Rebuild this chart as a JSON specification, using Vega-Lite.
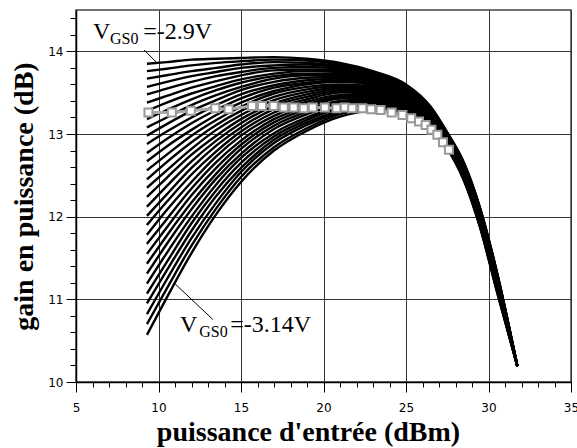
{
"$schema":"https://vega.github.io/schema/vega-lite/v6.json",
"width":495,"height":372,
"autosize":{"type":"none"},
"padding":{"left":76,"top":10,"right":6,"bottom":66},
"background":"white",
"config":{"view":{"stroke":"#444","strokeWidth":1.5},
"axis":{"labelFont":"DejaVu Sans","labelFontSize":12,"labelColor":"black","tickColor":"black","tickWidth":1,"domainColor":"black","domainWidth":1.5,"gridColor":"#333","gridWidth":1,"titleFont":"Liberation Serif","titleFontSize":28,"titleFontWeight":"bold","titleColor":"black"}},
"datasets":{
"curves":[
{"c":0,"x":9.3,"g":13.85},{"c":0,"x":10.5,"g":13.87},{"c":0,"x":12,"g":13.9},{"c":0,"x":13.5,"g":13.91},{"c":0,"x":15,"g":13.92},{"c":0,"x":17,"g":13.93},{"c":0,"x":19,"g":13.91},{"c":0,"x":21,"g":13.86},{"c":0,"x":23,"g":13.76},{"c":0,"x":25,"g":13.6},{"c":0,"x":26.5,"g":13.33},{"c":0,"x":27.5,"g":13.02},{"c":0,"x":28.5,"g":12.66},{"c":0,"x":29.5,"g":12.1},{"c":0,"x":30.5,"g":11.34},{"c":0,"x":31.75,"g":10.19},
{"c":1,"x":9.3,"g":13.76},{"c":1,"x":10.5,"g":13.79},{"c":1,"x":12,"g":13.83},{"c":1,"x":13.5,"g":13.86},{"c":1,"x":15,"g":13.88},{"c":1,"x":17,"g":13.9},{"c":1,"x":19,"g":13.89},{"c":1,"x":21,"g":13.84},{"c":1,"x":23,"g":13.75},{"c":1,"x":25,"g":13.59},{"c":1,"x":26.5,"g":13.32},{"c":1,"x":27.5,"g":13.01},{"c":1,"x":28.5,"g":12.65},{"c":1,"x":29.5,"g":12.09},{"c":1,"x":30.5,"g":11.33},{"c":1,"x":31.75,"g":10.19},
{"c":2,"x":9.3,"g":13.67},{"c":2,"x":10.5,"g":13.71},{"c":2,"x":12,"g":13.76},{"c":2,"x":13.5,"g":13.8},{"c":2,"x":15,"g":13.84},{"c":2,"x":17,"g":13.87},{"c":2,"x":19,"g":13.86},{"c":2,"x":21,"g":13.82},{"c":2,"x":23,"g":13.73},{"c":2,"x":25,"g":13.58},{"c":2,"x":26.5,"g":13.31},{"c":2,"x":27.5,"g":13.01},{"c":2,"x":28.5,"g":12.65},{"c":2,"x":29.5,"g":12.09},{"c":2,"x":30.5,"g":11.33},{"c":2,"x":31.75,"g":10.19},
{"c":3,"x":9.3,"g":13.57},{"c":3,"x":10.5,"g":13.63},{"c":3,"x":12,"g":13.7},{"c":3,"x":13.5,"g":13.75},{"c":3,"x":15,"g":13.8},{"c":3,"x":17,"g":13.83},{"c":3,"x":19,"g":13.84},{"c":3,"x":21,"g":13.8},{"c":3,"x":23,"g":13.72},{"c":3,"x":25,"g":13.57},{"c":3,"x":26.5,"g":13.31},{"c":3,"x":27.5,"g":13.0},{"c":3,"x":28.5,"g":12.64},{"c":3,"x":29.5,"g":12.08},{"c":3,"x":30.5,"g":11.32},{"c":3,"x":31.75,"g":10.19},
{"c":4,"x":9.3,"g":13.48},{"c":4,"x":10.5,"g":13.55},{"c":4,"x":12,"g":13.63},{"c":4,"x":13.5,"g":13.7},{"c":4,"x":15,"g":13.75},{"c":4,"x":17,"g":13.8},{"c":4,"x":19,"g":13.81},{"c":4,"x":21,"g":13.79},{"c":4,"x":23,"g":13.71},{"c":4,"x":25,"g":13.56},{"c":4,"x":26.5,"g":13.3},{"c":4,"x":27.5,"g":13.0},{"c":4,"x":28.5,"g":12.63},{"c":4,"x":29.5,"g":12.07},{"c":4,"x":30.5,"g":11.31},{"c":4,"x":31.75,"g":10.19},
{"c":5,"x":9.3,"g":13.38},{"c":5,"x":10.5,"g":13.46},{"c":5,"x":12,"g":13.56},{"c":5,"x":13.5,"g":13.64},{"c":5,"x":15,"g":13.71},{"c":5,"x":17,"g":13.77},{"c":5,"x":19,"g":13.78},{"c":5,"x":21,"g":13.77},{"c":5,"x":23,"g":13.69},{"c":5,"x":25,"g":13.55},{"c":5,"x":26.5,"g":13.29},{"c":5,"x":27.5,"g":12.99},{"c":5,"x":28.5,"g":12.63},{"c":5,"x":29.5,"g":12.07},{"c":5,"x":30.5,"g":11.31},{"c":5,"x":31.75,"g":10.19},
{"c":6,"x":9.3,"g":13.28},{"c":6,"x":10.5,"g":13.38},{"c":6,"x":12,"g":13.49},{"c":6,"x":13.5,"g":13.58},{"c":6,"x":15,"g":13.66},{"c":6,"x":17,"g":13.73},{"c":6,"x":19,"g":13.76},{"c":6,"x":21,"g":13.75},{"c":6,"x":23,"g":13.68},{"c":6,"x":25,"g":13.54},{"c":6,"x":26.5,"g":13.28},{"c":6,"x":27.5,"g":12.99},{"c":6,"x":28.5,"g":12.62},{"c":6,"x":29.5,"g":12.06},{"c":6,"x":30.5,"g":11.3},{"c":6,"x":31.75,"g":10.19},
{"c":7,"x":9.3,"g":13.18},{"c":7,"x":10.5,"g":13.29},{"c":7,"x":12,"g":13.42},{"c":7,"x":13.5,"g":13.53},{"c":7,"x":15,"g":13.62},{"c":7,"x":17,"g":13.7},{"c":7,"x":19,"g":13.73},{"c":7,"x":21,"g":13.73},{"c":7,"x":23,"g":13.66},{"c":7,"x":25,"g":13.52},{"c":7,"x":26.5,"g":13.27},{"c":7,"x":27.5,"g":12.98},{"c":7,"x":28.5,"g":12.62},{"c":7,"x":29.5,"g":12.05},{"c":7,"x":30.5,"g":11.29},{"c":7,"x":31.75,"g":10.19},
{"c":8,"x":9.3,"g":13.08},{"c":8,"x":10.5,"g":13.2},{"c":8,"x":12,"g":13.35},{"c":8,"x":13.5,"g":13.47},{"c":8,"x":15,"g":13.57},{"c":8,"x":17,"g":13.67},{"c":8,"x":19,"g":13.71},{"c":8,"x":21,"g":13.71},{"c":8,"x":23,"g":13.65},{"c":8,"x":25,"g":13.51},{"c":8,"x":26.5,"g":13.26},{"c":8,"x":27.5,"g":12.97},{"c":8,"x":28.5,"g":12.61},{"c":8,"x":29.5,"g":12.04},{"c":8,"x":30.5,"g":11.28},{"c":8,"x":31.75,"g":10.19},
{"c":9,"x":9.3,"g":12.98},{"c":9,"x":10.5,"g":13.12},{"c":9,"x":12,"g":13.28},{"c":9,"x":13.5,"g":13.41},{"c":9,"x":15,"g":13.53},{"c":9,"x":17,"g":13.63},{"c":9,"x":19,"g":13.68},{"c":9,"x":21,"g":13.69},{"c":9,"x":23,"g":13.63},{"c":9,"x":25,"g":13.5},{"c":9,"x":26.5,"g":13.26},{"c":9,"x":27.5,"g":12.97},{"c":9,"x":28.5,"g":12.6},{"c":9,"x":29.5,"g":12.04},{"c":9,"x":30.5,"g":11.28},{"c":9,"x":31.75,"g":10.19},
{"c":10,"x":9.3,"g":12.88},{"c":10,"x":10.5,"g":13.03},{"c":10,"x":12,"g":13.2},{"c":10,"x":13.5,"g":13.35},{"c":10,"x":15,"g":13.48},{"c":10,"x":17,"g":13.59},{"c":10,"x":19,"g":13.65},{"c":10,"x":21,"g":13.67},{"c":10,"x":23,"g":13.62},{"c":10,"x":25,"g":13.49},{"c":10,"x":26.5,"g":13.25},{"c":10,"x":27.5,"g":12.96},{"c":10,"x":28.5,"g":12.59},{"c":10,"x":29.5,"g":12.03},{"c":10,"x":30.5,"g":11.27},{"c":10,"x":31.75,"g":10.19},
{"c":11,"x":9.3,"g":12.77},{"c":11,"x":10.5,"g":12.94},{"c":11,"x":12,"g":13.13},{"c":11,"x":13.5,"g":13.29},{"c":11,"x":15,"g":13.43},{"c":11,"x":17,"g":13.56},{"c":11,"x":19,"g":13.62},{"c":11,"x":21,"g":13.65},{"c":11,"x":23,"g":13.6},{"c":11,"x":25,"g":13.48},{"c":11,"x":26.5,"g":13.24},{"c":11,"x":27.5,"g":12.95},{"c":11,"x":28.5,"g":12.59},{"c":11,"x":29.5,"g":12.02},{"c":11,"x":30.5,"g":11.26},{"c":11,"x":31.75,"g":10.19},
{"c":12,"x":9.3,"g":12.67},{"c":12,"x":10.5,"g":12.85},{"c":12,"x":12,"g":13.05},{"c":12,"x":13.5,"g":13.23},{"c":12,"x":15,"g":13.38},{"c":12,"x":17,"g":13.52},{"c":12,"x":19,"g":13.6},{"c":12,"x":21,"g":13.63},{"c":12,"x":23,"g":13.59},{"c":12,"x":25,"g":13.47},{"c":12,"x":26.5,"g":13.23},{"c":12,"x":27.5,"g":12.95},{"c":12,"x":28.5,"g":12.58},{"c":12,"x":29.5,"g":12.01},{"c":12,"x":30.5,"g":11.25},{"c":12,"x":31.75,"g":10.19},
{"c":13,"x":9.3,"g":12.56},{"c":13,"x":10.5,"g":12.75},{"c":13,"x":12,"g":12.98},{"c":13,"x":13.5,"g":13.17},{"c":13,"x":15,"g":13.33},{"c":13,"x":17,"g":13.49},{"c":13,"x":19,"g":13.57},{"c":13,"x":21,"g":13.6},{"c":13,"x":23,"g":13.57},{"c":13,"x":25,"g":13.45},{"c":13,"x":26.5,"g":13.22},{"c":13,"x":27.5,"g":12.94},{"c":13,"x":28.5,"g":12.57},{"c":13,"x":29.5,"g":12.01},{"c":13,"x":30.5,"g":11.25},{"c":13,"x":31.75,"g":10.19},
{"c":14,"x":9.3,"g":12.45},{"c":14,"x":10.5,"g":12.66},{"c":14,"x":12,"g":12.9},{"c":14,"x":13.5,"g":13.11},{"c":14,"x":15,"g":13.28},{"c":14,"x":17,"g":13.45},{"c":14,"x":19,"g":13.54},{"c":14,"x":21,"g":13.58},{"c":14,"x":23,"g":13.56},{"c":14,"x":25,"g":13.44},{"c":14,"x":26.5,"g":13.21},{"c":14,"x":27.5,"g":12.93},{"c":14,"x":28.5,"g":12.57},{"c":14,"x":29.5,"g":12.0},{"c":14,"x":30.5,"g":11.24},{"c":14,"x":31.75,"g":10.19},
{"c":15,"x":9.3,"g":12.35},{"c":15,"x":10.5,"g":12.56},{"c":15,"x":12,"g":12.82},{"c":15,"x":13.5,"g":13.05},{"c":15,"x":15,"g":13.23},{"c":15,"x":17,"g":13.41},{"c":15,"x":19,"g":13.51},{"c":15,"x":21,"g":13.56},{"c":15,"x":23,"g":13.54},{"c":15,"x":25,"g":13.43},{"c":15,"x":26.5,"g":13.2},{"c":15,"x":27.5,"g":12.93},{"c":15,"x":28.5,"g":12.56},{"c":15,"x":29.5,"g":11.99},{"c":15,"x":30.5,"g":11.23},{"c":15,"x":31.75,"g":10.19},
{"c":16,"x":9.3,"g":12.24},{"c":16,"x":10.5,"g":12.47},{"c":16,"x":12,"g":12.75},{"c":16,"x":13.5,"g":12.98},{"c":16,"x":15,"g":13.18},{"c":16,"x":17,"g":13.37},{"c":16,"x":19,"g":13.48},{"c":16,"x":21,"g":13.54},{"c":16,"x":23,"g":13.52},{"c":16,"x":25,"g":13.42},{"c":16,"x":26.5,"g":13.19},{"c":16,"x":27.5,"g":12.92},{"c":16,"x":28.5,"g":12.55},{"c":16,"x":29.5,"g":11.98},{"c":16,"x":30.5,"g":11.22},{"c":16,"x":31.75,"g":10.19},
{"c":17,"x":9.3,"g":12.12},{"c":17,"x":10.5,"g":12.37},{"c":17,"x":12,"g":12.67},{"c":17,"x":13.5,"g":12.92},{"c":17,"x":15,"g":13.13},{"c":17,"x":17,"g":13.34},{"c":17,"x":19,"g":13.45},{"c":17,"x":21,"g":13.52},{"c":17,"x":23,"g":13.51},{"c":17,"x":25,"g":13.41},{"c":17,"x":26.5,"g":13.18},{"c":17,"x":27.5,"g":12.91},{"c":17,"x":28.5,"g":12.54},{"c":17,"x":29.5,"g":11.97},{"c":17,"x":30.5,"g":11.21},{"c":17,"x":31.75,"g":10.19},
{"c":18,"x":9.3,"g":12.01},{"c":18,"x":10.5,"g":12.27},{"c":18,"x":12,"g":12.59},{"c":18,"x":13.5,"g":12.86},{"c":18,"x":15,"g":13.08},{"c":18,"x":17,"g":13.3},{"c":18,"x":19,"g":13.42},{"c":18,"x":21,"g":13.5},{"c":18,"x":23,"g":13.49},{"c":18,"x":25,"g":13.39},{"c":18,"x":26.5,"g":13.17},{"c":18,"x":27.5,"g":12.91},{"c":18,"x":28.5,"g":12.54},{"c":18,"x":29.5,"g":11.97},{"c":18,"x":30.5,"g":11.21},{"c":18,"x":31.75,"g":10.19},
{"c":19,"x":9.3,"g":11.9},{"c":19,"x":10.5,"g":12.18},{"c":19,"x":12,"g":12.51},{"c":19,"x":13.5,"g":12.79},{"c":19,"x":15,"g":13.03},{"c":19,"x":17,"g":13.26},{"c":19,"x":19,"g":13.39},{"c":19,"x":21,"g":13.47},{"c":19,"x":23,"g":13.47},{"c":19,"x":25,"g":13.38},{"c":19,"x":26.5,"g":13.16},{"c":19,"x":27.5,"g":12.9},{"c":19,"x":28.5,"g":12.53},{"c":19,"x":29.5,"g":11.96},{"c":19,"x":30.5,"g":11.2},{"c":19,"x":31.75,"g":10.19},
{"c":20,"x":9.3,"g":11.78},{"c":20,"x":10.5,"g":12.08},{"c":20,"x":12,"g":12.42},{"c":20,"x":13.5,"g":12.73},{"c":20,"x":15,"g":12.98},{"c":20,"x":17,"g":13.22},{"c":20,"x":19,"g":13.36},{"c":20,"x":21,"g":13.45},{"c":20,"x":23,"g":13.46},{"c":20,"x":25,"g":13.37},{"c":20,"x":26.5,"g":13.15},{"c":20,"x":27.5,"g":12.89},{"c":20,"x":28.5,"g":12.52},{"c":20,"x":29.5,"g":11.95},{"c":20,"x":30.5,"g":11.19},{"c":20,"x":31.75,"g":10.19},
{"c":21,"x":9.3,"g":11.67},{"c":21,"x":10.5,"g":11.97},{"c":21,"x":12,"g":12.34},{"c":21,"x":13.5,"g":12.66},{"c":21,"x":15,"g":12.92},{"c":21,"x":17,"g":13.18},{"c":21,"x":19,"g":13.33},{"c":21,"x":21,"g":13.43},{"c":21,"x":23,"g":13.44},{"c":21,"x":25,"g":13.35},{"c":21,"x":26.5,"g":13.14},{"c":21,"x":27.5,"g":12.89},{"c":21,"x":28.5,"g":12.51},{"c":21,"x":29.5,"g":11.94},{"c":21,"x":30.5,"g":11.18},{"c":21,"x":31.75,"g":10.19},
{"c":22,"x":9.3,"g":11.55},{"c":22,"x":10.5,"g":11.87},{"c":22,"x":12,"g":12.26},{"c":22,"x":13.5,"g":12.59},{"c":22,"x":15,"g":12.87},{"c":22,"x":17,"g":13.14},{"c":22,"x":19,"g":13.3},{"c":22,"x":21,"g":13.4},{"c":22,"x":23,"g":13.42},{"c":22,"x":25,"g":13.34},{"c":22,"x":26.5,"g":13.13},{"c":22,"x":27.5,"g":12.88},{"c":22,"x":28.5,"g":12.51},{"c":22,"x":29.5,"g":11.93},{"c":22,"x":30.5,"g":11.17},{"c":22,"x":31.75,"g":10.19},
{"c":23,"x":9.3,"g":11.43},{"c":23,"x":10.5,"g":11.77},{"c":23,"x":12,"g":12.17},{"c":23,"x":13.5,"g":12.52},{"c":23,"x":15,"g":12.82},{"c":23,"x":17,"g":13.1},{"c":23,"x":19,"g":13.27},{"c":23,"x":21,"g":13.38},{"c":23,"x":23,"g":13.41},{"c":23,"x":25,"g":13.33},{"c":23,"x":26.5,"g":13.12},{"c":23,"x":27.5,"g":12.87},{"c":23,"x":28.5,"g":12.5},{"c":23,"x":29.5,"g":11.92},{"c":23,"x":30.5,"g":11.16},{"c":23,"x":31.75,"g":10.19},
{"c":24,"x":9.3,"g":11.31},{"c":24,"x":10.5,"g":11.67},{"c":24,"x":12,"g":12.09},{"c":24,"x":13.5,"g":12.46},{"c":24,"x":15,"g":12.76},{"c":24,"x":17,"g":13.06},{"c":24,"x":19,"g":13.24},{"c":24,"x":21,"g":13.36},{"c":24,"x":23,"g":13.39},{"c":24,"x":25,"g":13.31},{"c":24,"x":26.5,"g":13.11},{"c":24,"x":27.5,"g":12.87},{"c":24,"x":28.5,"g":12.49},{"c":24,"x":29.5,"g":11.91},{"c":24,"x":30.5,"g":11.15},{"c":24,"x":31.75,"g":10.19},
{"c":25,"x":9.3,"g":11.19},{"c":25,"x":10.5,"g":11.56},{"c":25,"x":12,"g":12.0},{"c":25,"x":13.5,"g":12.39},{"c":25,"x":15,"g":12.71},{"c":25,"x":17,"g":13.01},{"c":25,"x":19,"g":13.2},{"c":25,"x":21,"g":13.33},{"c":25,"x":23,"g":13.37},{"c":25,"x":25,"g":13.3},{"c":25,"x":26.5,"g":13.1},{"c":25,"x":27.5,"g":12.86},{"c":25,"x":28.5,"g":12.48},{"c":25,"x":29.5,"g":11.91},{"c":25,"x":30.5,"g":11.15},{"c":25,"x":31.75,"g":10.19},
{"c":26,"x":9.3,"g":11.07},{"c":26,"x":10.5,"g":11.45},{"c":26,"x":12,"g":11.92},{"c":26,"x":13.5,"g":12.32},{"c":26,"x":15,"g":12.65},{"c":26,"x":17,"g":12.97},{"c":26,"x":19,"g":13.17},{"c":26,"x":21,"g":13.31},{"c":26,"x":23,"g":13.35},{"c":26,"x":25,"g":13.29},{"c":26,"x":26.5,"g":13.09},{"c":26,"x":27.5,"g":12.85},{"c":26,"x":28.5,"g":12.47},{"c":26,"x":29.5,"g":11.9},{"c":26,"x":30.5,"g":11.14},{"c":26,"x":31.75,"g":10.19},
{"c":27,"x":9.3,"g":10.95},{"c":27,"x":10.5,"g":11.35},{"c":27,"x":12,"g":11.83},{"c":27,"x":13.5,"g":12.25},{"c":27,"x":15,"g":12.59},{"c":27,"x":17,"g":12.93},{"c":27,"x":19,"g":13.14},{"c":27,"x":21,"g":13.28},{"c":27,"x":23,"g":13.34},{"c":27,"x":25,"g":13.27},{"c":27,"x":26.5,"g":13.08},{"c":27,"x":27.5,"g":12.84},{"c":27,"x":28.5,"g":12.47},{"c":27,"x":29.5,"g":11.89},{"c":27,"x":30.5,"g":11.13},{"c":27,"x":31.75,"g":10.19},
{"c":28,"x":9.3,"g":10.82},{"c":28,"x":10.5,"g":11.24},{"c":28,"x":12,"g":11.74},{"c":28,"x":13.5,"g":12.17},{"c":28,"x":15,"g":12.54},{"c":28,"x":17,"g":12.89},{"c":28,"x":19,"g":13.11},{"c":28,"x":21,"g":13.26},{"c":28,"x":23,"g":13.32},{"c":28,"x":25,"g":13.26},{"c":28,"x":26.5,"g":13.07},{"c":28,"x":27.5,"g":12.84},{"c":28,"x":28.5,"g":12.46},{"c":28,"x":29.5,"g":11.88},{"c":28,"x":30.5,"g":11.12},{"c":28,"x":31.75,"g":10.19},
{"c":29,"x":9.3,"g":10.7},{"c":29,"x":10.5,"g":11.13},{"c":29,"x":12,"g":11.65},{"c":29,"x":13.5,"g":12.1},{"c":29,"x":15,"g":12.48},{"c":29,"x":17,"g":12.84},{"c":29,"x":19,"g":13.07},{"c":29,"x":21,"g":13.24},{"c":29,"x":23,"g":13.3},{"c":29,"x":25,"g":13.24},{"c":29,"x":26.5,"g":13.06},{"c":29,"x":27.5,"g":12.83},{"c":29,"x":28.5,"g":12.45},{"c":29,"x":29.5,"g":11.87},{"c":29,"x":30.5,"g":11.11},{"c":29,"x":31.75,"g":10.19},
{"c":30,"x":9.3,"g":10.57},{"c":30,"x":10.5,"g":11.02},{"c":30,"x":12,"g":11.56},{"c":30,"x":13.5,"g":12.03},{"c":30,"x":15,"g":12.42},{"c":30,"x":17,"g":12.8},{"c":30,"x":19,"g":13.04},{"c":30,"x":21,"g":13.21},{"c":30,"x":23,"g":13.28},{"c":30,"x":25,"g":13.23},{"c":30,"x":26.5,"g":13.05},{"c":30,"x":27.5,"g":12.82},{"c":30,"x":28.5,"g":12.44},{"c":30,"x":29.5,"g":11.86},{"c":30,"x":30.5,"g":11.1},{"c":30,"x":31.75,"g":10.19}
],
"squares":[
{"x":9.39,"g":13.26},{"x":10.81,"g":13.26},{"x":11.96,"g":13.28},{"x":13.44,"g":13.31},{"x":14.25,"g":13.3},{"x":15.67,"g":13.34},{"x":16.27,"g":13.34},{"x":16.98,"g":13.34},{"x":17.59,"g":13.32},{"x":18.19,"g":13.32},{"x":18.8,"g":13.31},{"x":19.35,"g":13.32},{"x":20.08,"g":13.32},{"x":20.79,"g":13.31},{"x":21.29,"g":13.32},{"x":21.74,"g":13.31},{"x":22.35,"g":13.31},{"x":22.89,"g":13.3},{"x":23.46,"g":13.29},{"x":24.13,"g":13.26},{"x":24.78,"g":13.23},{"x":25.32,"g":13.19},{"x":25.79,"g":13.15},{"x":26.19,"g":13.11},{"x":26.54,"g":13.05},{"x":26.9,"g":12.99},{"x":27.24,"g":12.9},{"x":27.6,"g":12.81}
],
"big":[
{"x":6.03,"g":14.145,"t":"V"},{"x":9.07,"g":14.145,"t":"=-2.9V"},{"x":11.31,"g":10.6,"t":"V"},{"x":14.35,"g":10.6,"t":"=-3.14V"}
],
"sub":[
{"x":7.06,"g":14.09,"t":"GS0"},{"x":12.47,"g":10.54,"t":"GS0"}
],
"pointers":[
{"x":9.13,"g":14.016,"x2":9.86,"g2":13.87},{"x":11.01,"g":11.186,"x2":13.3,"g2":10.755}
]
},
"layer":[
{"data":{"name":"curves"},
"mark":{"type":"line","color":"black","strokeWidth":2.4,"interpolate":"monotone"},
"encoding":{
"x":{"field":"x","type":"quantitative","scale":{"domain":[5,35],"nice":false,"zero":false},
"axis":{"title":"puissance d'entrée (dBm)","values":[5,6,7,8,9,10,11,12,13,14,15,16,17,18,19,20,21,22,23,24,25,26,27,28,29,30,31,32,33,34,35],"tickCount":100,
"labelExpr":"datum.value % 5 === 0 ? format(datum.value, 'd') : ''",
"tickSize":{"condition":{"test":"datum.value % 5 === 0","value":10},"value":5},
"gridOpacity":{"condition":{"test":"datum.value % 5 === 0","value":1},"value":0},
"grid":true,"labelPadding":10,"labelFlush":false,"labelOverlap":false,
"titleX":232,"titleY":58,"titleBaseline":"alphabetic","titleAlign":"center","titleAnchor":null}},
"y":{"field":"g","type":"quantitative","scale":{"domain":[10,14.5],"nice":false,"zero":false},
"axis":{"title":"gain en puissance (dB)","values":[10,10.2,10.4,10.6,10.8,11,11.2,11.4,11.6,11.8,12,12.2,12.4,12.6,12.8,13,13.2,13.4,13.6,13.8,14,14.2,14.4],"tickCount":100,
"labelExpr":"datum.value % 1 === 0 ? format(datum.value, 'd') : ''",
"tickSize":{"condition":{"test":"datum.value % 1 === 0","value":10},"value":6},
"gridOpacity":{"condition":{"test":"datum.value % 1 === 0","value":1},"value":0},
"grid":true,"labelPadding":3,"labelFlush":false,"labelOverlap":false,
"titleX":-44,"titleY":186,"titleBaseline":"alphabetic","titleAlign":"center","titleAnchor":null}},
"detail":{"field":"c","type":"nominal"}}},
{"data":{"name":"squares"},
"mark":{"type":"line","color":"#a8a8a8","strokeWidth":3},
"encoding":{"x":{"field":"x","type":"quantitative"},"y":{"field":"g","type":"quantitative"}}},
{"data":{"name":"squares"},
"mark":{"type":"point","shape":"square","size":64,"filled":false,"fill":"white","fillOpacity":1,"stroke":"#999","strokeWidth":2,"opacity":1},
"encoding":{"x":{"field":"x","type":"quantitative"},"y":{"field":"g","type":"quantitative"}}},
{"data":{"name":"pointers"},
"mark":{"type":"rule","color":"black","strokeWidth":1},
"encoding":{"x":{"field":"x","type":"quantitative"},"y":{"field":"g","type":"quantitative"},"x2":{"field":"x2"},"y2":{"field":"g2"}}},
{"data":{"name":"big"},
"mark":{"type":"text","font":"Liberation Serif","fontSize":24,"align":"left","baseline":"alphabetic","color":"black"},
"encoding":{"x":{"field":"x","type":"quantitative"},"y":{"field":"g","type":"quantitative"},"text":{"field":"t"}}},
{"data":{"name":"sub"},
"mark":{"type":"text","font":"Liberation Serif","fontSize":16,"align":"left","baseline":"alphabetic","color":"black"},
"encoding":{"x":{"field":"x","type":"quantitative"},"y":{"field":"g","type":"quantitative"},"text":{"field":"t"}}}
]
}
